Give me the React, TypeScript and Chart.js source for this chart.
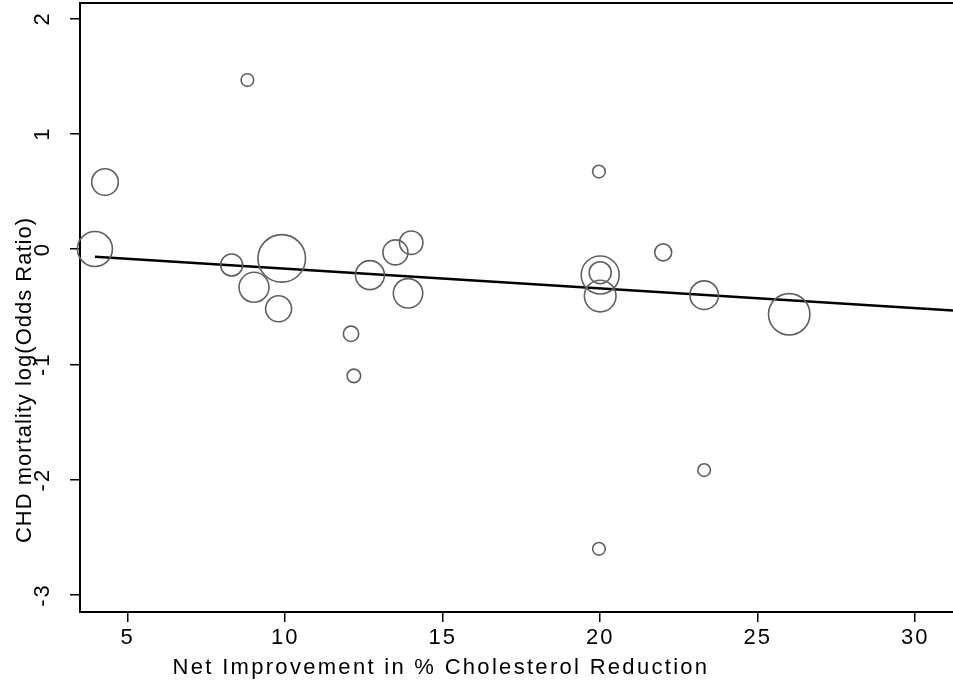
import React, { useEffect, useRef } from 'react';
import { Chart, registerables } from 'chart.js';

Chart.register(...registerables);

// ---- data ----
const studyX = [8.80, 4.28, 3.96, 19.96, 8.30, 9.89, 9.01, 9.79, 12.09, 12.18, 12.69, 13.50, 14.00, 13.90, 20.00, 20.00, 20.00, 22.00, 23.30, 26.00, 23.30, 19.96];
const studyY = [1.466, 0.581, 0.0, 0.672, -0.139, -0.081, -0.332, -0.518, -0.735, -1.10, -0.226, -0.029, 0.055, -0.384, -0.225, -0.205, -0.408, -0.029, -0.40, -0.566, -1.917, -2.60];
const studyWeight = [40, 177, 306, 40, 121, 566, 225, 169, 59, 46, 210, 156, 137, 216, 361, 121, 250, 72, 204, 428, 40, 40];
const fitX = [3.96, 31.2];
const fitY = [-0.067, -0.533];
const xTicks = [5, 10, 15, 20, 25, 30];
const yTicks = [-3, -2, -1, 0, 1, 2];
const xTitle = 'Net Improvement in % Cholesterol Reduction';
const yTitle = 'CHD mortality log(Odds Ratio)';

const FONT = '"Liberation Sans", Arial, Helvetica, sans-serif';

const spacingPlugin = {
  id: 'spacing',
  beforeLayout(chart: any) { chart.ctx.letterSpacing = '2px'; },
  beforeDraw(chart: any) { chart.ctx.letterSpacing = '2px'; },
};

const framePlugin = {
  id: 'frameTitles',
  afterDraw(chart: any) {
    const { ctx, chartArea } = chart;
    ctx.save();
    ctx.strokeStyle = '#000';
    ctx.lineWidth = 2;
    ctx.beginPath();
    ctx.moveTo(chartArea.left - 1, chartArea.top);
    ctx.lineTo(chartArea.right, chartArea.top);
    ctx.stroke();

    ctx.fillStyle = '#000';
    ctx.font = `22px ${FONT}`;
    ctx.letterSpacing = '2.3px';
    ctx.textAlign = 'center';
    ctx.textBaseline = 'alphabetic';
    ctx.fillText(xTitle, 441, 674);

    ctx.letterSpacing = '1px';
    ctx.translate(31, 380);
    ctx.rotate(-Math.PI / 2);
    ctx.fillText(yTitle, 0, 0);
    ctx.restore();
  },
};

const noPad = (s: any) => {
  s.paddingTop = 0;
  s.paddingBottom = 0;
  s.paddingLeft = 0;
  s.paddingRight = 0;
};

export default function App() {
  const ref = useRef<HTMLCanvasElement>(null);
  useEffect(() => {
    if (!ref.current) return;
    const chart = new Chart(ref.current, {
      type: 'bubble',
      data: {
        datasets: [
          {
            type: 'bubble',
            data: studyX.map((x, i) => ({ x, y: studyY[i], r: Math.sqrt(studyWeight[i]) })),
            backgroundColor: 'rgba(0,0,0,0)',
            borderColor: '#606060',
            borderWidth: 1.6,
            hoverRadius: 0,
            clip: false,
          } as any,
          {
            type: 'line',
            data: fitX.map((x, i) => ({ x, y: fitY[i] })),
            borderColor: '#000',
            borderWidth: 2.5,
            pointRadius: 0,
            fill: false,
            clip: false,
          } as any,
        ],
      },
      options: {
        animation: false,
        responsive: false,
        devicePixelRatio: 1,
        events: [],
        layout: { autoPadding: false, padding: { top: 3, left: 0, right: 0, bottom: 0 } },
        plugins: { legend: { display: false }, tooltip: { enabled: false } },
        scales: {
          x: {
            type: 'linear',
            bounds: 'data',
            min: 3.486,
            max: 31.2,
            afterBuildTicks: (s: any) => { s.ticks = xTicks.map((v) => ({ value: v })); },
            afterFit: (s: any) => { s.height = 69; noPad(s); },
            ticks: {
              font: { family: FONT, size: 22 },
              color: '#000',
              padding: 3,
              maxRotation: 0,
              autoSkip: false,
            },
            grid: { drawOnChartArea: false, drawTicks: true, tickLength: 10, color: '#000', lineWidth: 1.5 },
            border: { display: true, color: '#000', width: 2 },
          },
          y: {
            type: 'linear',
            bounds: 'data',
            min: -3.148,
            max: 2.134,
            afterBuildTicks: (s: any) => { s.ticks = yTicks.map((v) => ({ value: v })); },
            afterFit: (s: any) => { s.width = 80; noPad(s); },
            ticks: {
              font: { family: FONT, size: 22 },
              color: '#000',
              padding: 15,
              minRotation: 90,
              maxRotation: 90,
              crossAlign: 'center',
              autoSkip: false,
            },
            grid: { drawOnChartArea: false, drawTicks: true, tickLength: 10, color: '#000', lineWidth: 1.5 },
            border: { display: true, color: '#000', width: 2 },
          },
        },
      } as any,
      plugins: [spacingPlugin, framePlugin],
    });
    return () => chart.destroy();
  }, []);
  return (
    <div style={{ position: 'absolute', left: 0, top: 0, width: 953, height: 681, background: '#fff' }}>
      <canvas ref={ref} width={953} height={681} />
    </div>
  );
}
